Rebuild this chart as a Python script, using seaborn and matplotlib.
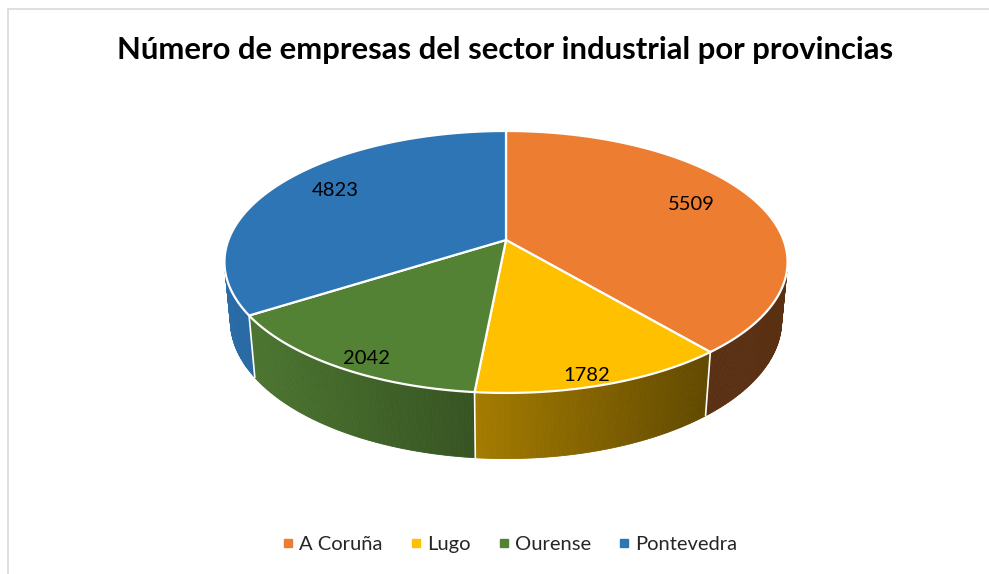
import numpy as np
import matplotlib
matplotlib.use("Agg")
import matplotlib.pyplot as plt
import seaborn as sns
from matplotlib.patches import Polygon
from matplotlib.lines import Line2D
from matplotlib.colors import to_rgb

# ---- data ----
provincias = ["A Coruña", "Lugo", "Ourense", "Pontevedra"]
empresas = [5509, 1782, 2042, 4823]
colores = ["#ED7D31", "#FFC000", "#548235", "#2E75B6"]
titulo = "Número de empresas del sector industrial por provincias"

sns.set_theme(style="white")
plt.rcParams['font.family'] = ['Lato', 'DejaVu Sans']

W, H = 989, 574
fig = plt.figure(figsize=(W / 100, H / 100), dpi=100)
ax = fig.add_axes([0, 0, 1, 1])
ax.set_xlim(0, W)
ax.set_ylim(H, 0)
ax.axis('off')

# chart frame (left and top border)
ax.plot([8, 8, W], [H, 9, 9], color="#D9D9D9", lw=1.2, solid_joinstyle='miter')

# ---- perspective projection of a disc ----
phi = np.radians(27.3)
D = 5.30
h = 0.24
k = 1471
cx, cy = 506, 240
c, s = np.cos(phi), np.sin(phi)


def proj(x, y, z):
    x = np.asarray(x, float)
    y = np.asarray(y, float)
    z = np.asarray(z, float) * np.ones_like(x)
    vy = y + D * c
    vz = z - D * s
    yc = vy * s + vz * c
    zc = vy * c - vz * s
    return cx + k * x / zc, cy - k * yc / zc


def rim(theta_deg, z, r=1.0):
    t = np.radians(theta_deg)
    return proj(r * np.sin(t), r * np.cos(t), z)


vals = np.array(empresas, float)
frac = vals / vals.sum()
ends = np.cumsum(frac) * 360
starts = ends - frac * 360

tv1 = np.degrees(np.arccos(-1 / (D * c)))
tv2 = 360 - tv1


def shade(xpix):
    return float(np.clip(0.92 - 0.54 * (xpix - 230) / 480, 0.38, 0.95))


# ---- side walls ----
for st, en, col in zip(starts, ends, colores):
    a, b = max(st, tv1), min(en, tv2)
    if a >= b:
        continue
    n = max(int((b - a) * 2), 2)
    th = np.linspace(a, b, n + 1)
    xt, yt = rim(th, 0)
    xb, yb = rim(th, -h)
    base = np.array(to_rgb(col))
    for i in range(n):
        xm = 0.5 * (xt[i] + xt[i + 1])
        fc = np.clip(base * shade(xm), 0, 1)
        poly = Polygon([[xt[i], yt[i]], [xt[i + 1], yt[i + 1]],
                        [xb[i + 1], yb[i + 1]], [xb[i], yb[i]]],
                       closed=True, facecolor=fc, edgecolor=fc, lw=0.6)
        ax.add_patch(poly)

# white vertical dividers on the wall
for bnd in starts:
    if tv1 < bnd < tv2:
        xt, yt = rim(bnd, 0)
        xb, yb = rim(bnd, -h)
        ax.plot([xt, xb], [yt, yb], color="white", lw=1.2)

# ---- top face ----
x0, y0 = proj(0, 0, 0)
for st, en, col in zip(starts, ends, colores):
    th = np.linspace(st, en, max(int(en - st) * 2, 4))
    xa, ya = rim(th, 0)
    pts = np.column_stack([np.r_[x0, xa], np.r_[y0, ya]])
    ax.add_patch(Polygon(pts, closed=True, facecolor=col, edgecolor="white",
                         lw=1.6, joinstyle='round'))

# ---- data labels ----
for st, en, v in zip(starts, ends, empresas):
    mid = 0.5 * (st + en)
    cm = np.cos(np.radians(mid))
    r_lab = 0.74 if cm > 0 else 0.85
    lx, ly = rim(mid, 0.06 * cm, r=r_lab)
    ax.text(float(lx), float(ly), f"{v}", ha="center", va="center",
            fontsize=14.5, color="black")

# ---- title ----
fig.text(0.511, 1 - 50 / H, titulo, ha="center", va="center",
         fontsize=22.3, fontweight="bold", color="black")

# ---- legend ----
handles = [Line2D([0], [0], marker='s', linestyle='', markersize=6,
                  markerfacecolor=col, markeredgecolor=col) for col in colores]
fig.legend(handles, provincias, loc="center", bbox_to_anchor=(0.516, 1 - 544 / H),
           ncol=4, frameon=False, fontsize=14.5, handlelength=0.5,
           handletextpad=0.3, columnspacing=1.4)

fig.savefig("out.png", dpi=100)
